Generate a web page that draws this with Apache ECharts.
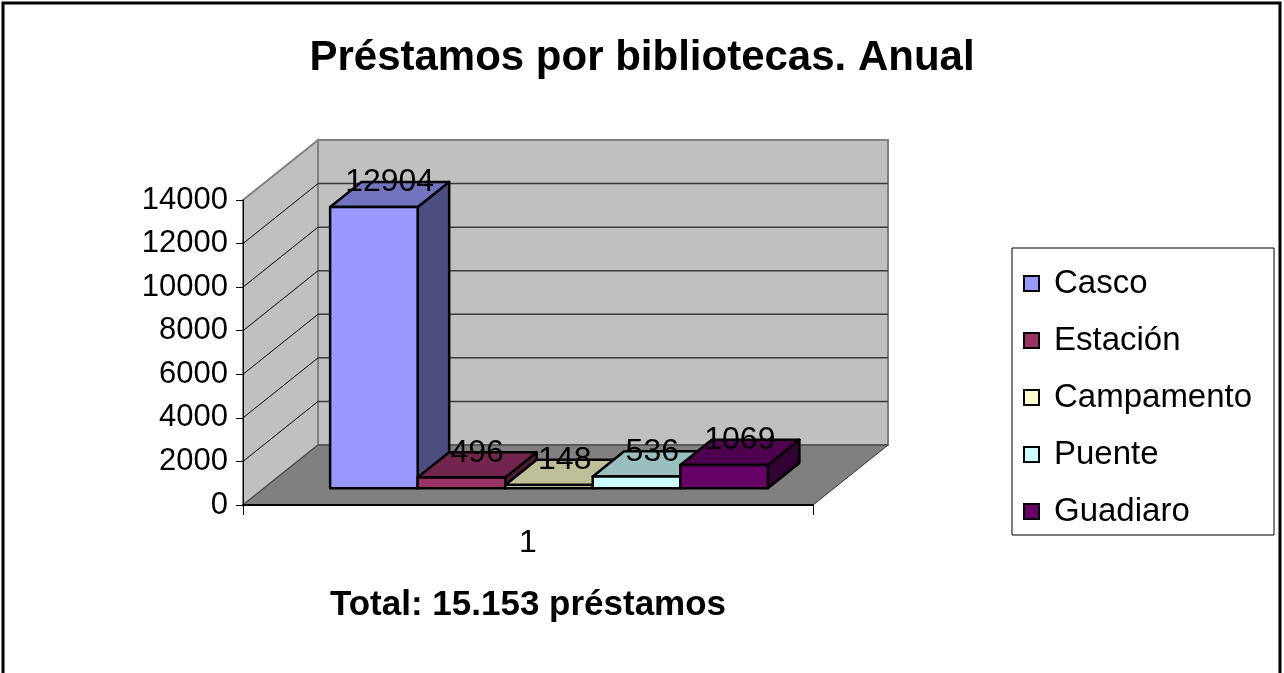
<!DOCTYPE html>
<html>
<head>
<meta charset="utf-8">
<script src="https://cdn.jsdelivr.net/npm/echarts@6/dist/echarts.min.js"></script>
<style>
html,body{margin:0;padding:0;background:#fff;}
#chart{width:1284px;height:673px;}
</style>
</head>
<body>
<div id="chart"></div>
<script>
// ---- data ----
var categories = ['1'];
var seriesNames = ['Casco', 'Estación', 'Campamento', 'Puente', 'Guadiaro'];
var seriesValues = [12904, 496, 148, 536, 1069];
var seriesColors = ['#9999ff', '#993366', '#ffffcc', '#ccffff', '#660066'];
var yTicks = [0, 2000, 4000, 6000, 8000, 10000, 12000, 14000];
var titleText = 'Préstamos por bibliotecas. Anual';
var xAxisTitle = 'Total: 15.153 préstamos';

// ---- 3D look (pixel offsets of the back plane) ----
var DEPTH_DX = 75, DEPTH_DY = -60;
var BAR_FRONT = 0.28, BAR_BACK = 0.70, GAP_FRAC = 0.116;
var FONT = "'Liberation Sans', Arial, sans-serif";

function shade(hex, k) {
  var r = parseInt(hex.substr(1, 2), 16), g = parseInt(hex.substr(3, 2), 16), b = parseInt(hex.substr(5, 2), 16);
  return 'rgb(' + Math.round(r * k) + ',' + Math.round(g * k) + ',' + Math.round(b * k) + ')';
}

function renderWalls(params, api) {
  var base = api.coord([0, 0]);
  var bw = api.size([1, 0])[0];
  var L = base[0] - bw / 2, R = base[0] + bw / 2, y0 = base[1];
  var yTop = api.coord([0, yTicks[yTicks.length - 1]])[1];
  var dx = DEPTH_DX, dy = DEPTH_DY;
  var children = [];
  children.push({type: 'polygon', shape: {points: [[L + dx, yTop + dy], [R + dx, yTop + dy], [R + dx, y0 + dy], [L + dx, y0 + dy]]},
    style: {fill: '#c0c0c0', stroke: '#808080', lineWidth: 2}});
  children.push({type: 'polygon', shape: {points: [[L, yTop], [L + dx, yTop + dy], [L + dx, y0 + dy], [L, y0]]},
    style: {fill: '#c0c0c0', stroke: '#808080', lineWidth: 2}});
  for (var i = 1; i < yTicks.length - 1; i++) {
    var y = api.coord([0, yTicks[i]])[1];
    children.push({type: 'line', shape: {x1: L + dx, y1: y + dy, x2: R + dx, y2: y + dy}, style: {stroke: '#3a3a3a', lineWidth: 1.5}});
    children.push({type: 'line', shape: {x1: L, y1: y, x2: L + dx, y2: y + dy}, style: {stroke: '#000', lineWidth: 1}});
  }
  children.push({type: 'polygon', shape: {points: [[L, y0], [L + dx, y0 + dy], [R + dx, y0 + dy], [R, y0]]},
    style: {fill: '#808080', stroke: '#333', lineWidth: 1}});
  return {type: 'group', children: children};
}

function renderBar(params, api) {
  var idx = seriesNames.indexOf(params.seriesName);
  var base = api.coord([api.value(0), 0]);
  var top = api.coord([api.value(0), api.value(1)]);
  var bw = api.size([1, 0])[0];
  var L = base[0] - bw / 2;
  var barW = bw * (1 - 2 * GAP_FRAC) / seriesNames.length;
  var x0 = L + bw * GAP_FRAC + idx * barW + DEPTH_DX * BAR_FRONT;
  var x1 = x0 + barW;
  var yb = base[1] + DEPTH_DY * BAR_FRONT;
  var yt = top[1] + DEPTH_DY * BAR_FRONT;
  var ddx = DEPTH_DX * (BAR_BACK - BAR_FRONT), ddy = DEPTH_DY * (BAR_BACK - BAR_FRONT);
  var c = seriesColors[idx];
  var st = {stroke: '#000', lineWidth: 2.5, lineJoin: 'round'};
  return {type: 'group', children: [
    {type: 'polygon', shape: {points: [[x1, yt], [x1 + ddx, yt + ddy], [x1 + ddx, yb + ddy], [x1, yb]]}, style: Object.assign({fill: shade(c, 0.5)}, st)},
    {type: 'polygon', shape: {points: [[x0, yt], [x1, yt], [x1 + ddx, yt + ddy], [x0 + ddx, yt + ddy]]}, style: Object.assign({fill: shade(c, 0.75)}, st)},
    {type: 'polygon', shape: {points: [[x0, yt], [x1, yt], [x1, yb], [x0, yb]]}, style: Object.assign({fill: c}, st)},
    {type: 'text', z2: 100, style: {x: (x0 + x1) / 2 + ddx / 2, y: yt + ddy / 2 + 4, text: String(api.value(1)),
      fill: '#000', font: '32px ' + FONT, align: 'center', verticalAlign: 'bottom'}}
  ]};
}

var series = [{type: 'custom', name: '_walls', renderItem: renderWalls, data: [[0, 0]], silent: true, z: 1}];
seriesNames.forEach(function (n, i) {
  series.push({type: 'custom', name: n, renderItem: renderBar, data: [[0, seriesValues[i]]], itemStyle: {color: seriesColors[i]}, z: 3});
});

var chart = echarts.init(document.getElementById('chart'), null, {renderer: 'canvas'});
chart.setOption({
  animation: false,
  backgroundColor: '#fff',
  textStyle: {fontFamily: FONT},
  title: {text: titleText, left: 'center', top: 37, padding: 0,
    textStyle: {fontSize: 42, fontWeight: 'bold', color: '#000', fontFamily: FONT}},
  grid: {left: 243, right: 471, top: 200, bottom: 168},
  xAxis: {type: 'category', data: categories, z: 10,
    axisLine: {lineStyle: {color: '#000', width: 2}},
    axisTick: {show: true, length: 10, lineStyle: {color: '#000', width: 1}},
    axisLabel: {fontSize: 32, color: '#000', margin: 22, fontFamily: FONT},
    name: xAxisTitle, nameLocation: 'middle', nameGap: 83,
    nameTextStyle: {fontSize: 35, fontWeight: 'bold', color: '#000', fontFamily: FONT}},
  yAxis: {type: 'value', min: 0, max: 14000, interval: 2000, z: 10,
    axisLine: {show: true, lineStyle: {color: '#000', width: 1}},
    axisTick: {show: true, length: 7, lineStyle: {color: '#000'}},
    splitLine: {show: false},
    axisLabel: {fontSize: 31, color: '#000', margin: 15, fontFamily: FONT,
      formatter: function (v) { return String(v); }}},
  legend: {orient: 'vertical', left: 1018, top: 261, itemWidth: 15, itemHeight: 15, itemGap: 22,
    textStyle: {fontSize: 33, color: '#000', lineHeight: 35, padding: [0, 0, 0, 10], fontFamily: FONT},
    data: seriesNames.map(function (n, i) {
      return {name: n, icon: 'rect', itemStyle: {color: seriesColors[i], borderColor: '#000', borderWidth: 2}};
    })},
  graphic: [
    {type: 'rect', silent: true, z: 0, shape: {x: 3, y: 3, width: 1277, height: 700}, style: {fill: 'none', stroke: '#000', lineWidth: 3}},
    {type: 'rect', silent: true, z: 0, shape: {x: 1012, y: 248, width: 262, height: 287}, style: {fill: 'none', stroke: '#000', lineWidth: 1}}
  ],
  series: series
});
</script>
</body>
</html>
